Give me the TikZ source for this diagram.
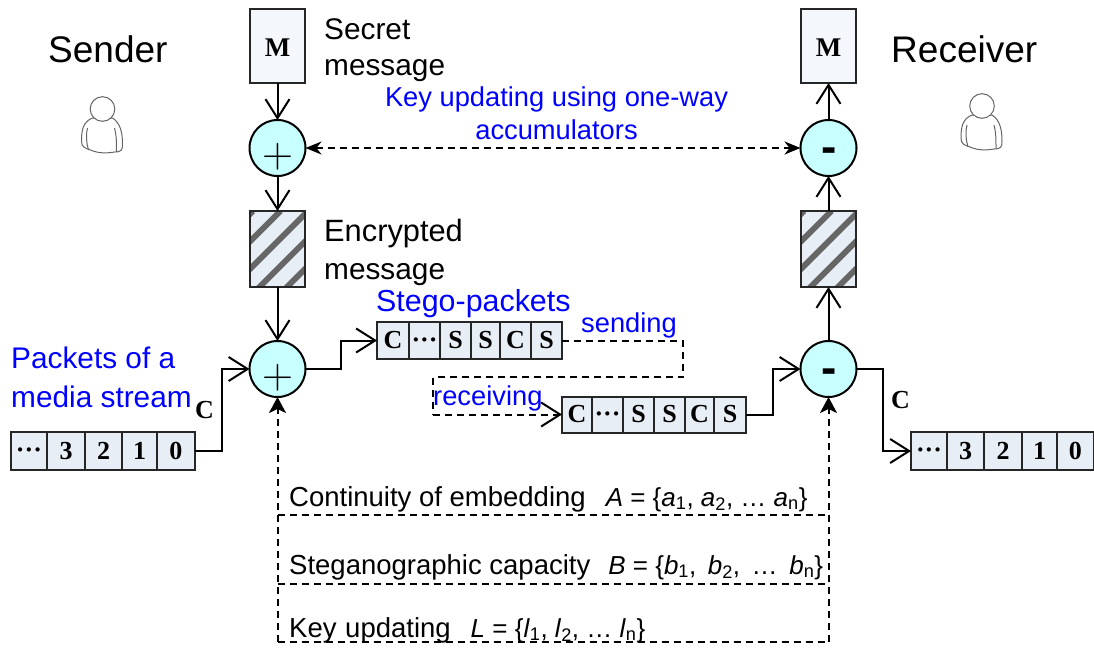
\documentclass[tikz,border=0pt]{standalone}
\usepackage{fontspec}
\usetikzlibrary{arrows.meta}
\newfontfamily\arialf{Liberation Sans}
\newfontfamily\timesf{Liberation Serif}[BoldFont={Liberation Serif Bold}]
\definecolor{cellfill}{HTML}{E8EEF6}
\definecolor{msgfill}{HTML}{F4F7FC}
\definecolor{opfill}{HTML}{C8FFFF}
\definecolor{stripe}{HTML}{666666}
\definecolor{edge}{HTML}{262626}
\definecolor{persongray}{HTML}{666666}
\newcommand{\tridots}{\raisebox{-7.5pt}[0pt][0pt]{···}}
\tikzset{
  x=1pt,y=-1pt,
  conn/.style={line width=2pt,black,-{Straight Barb[length=19pt,width=24pt,line width=2pt]}},
  dashconn/.style={line width=2pt,black,dash pattern=on 7pt off 5pt},
  cell/.style={draw=edge,line width=2pt,fill=cellfill,inner sep=0pt,outer sep=0pt,font=\timesf\bfseries\fontsize{26}{26}\selectfont},
  msgbox/.style={draw=edge,line width=2pt,fill=msgfill,inner sep=0pt,outer sep=0pt,minimum width=55pt,minimum height=74pt,font=\timesf\bfseries\fontsize{27}{27}\selectfont},
  hatchbox/.style={fill=cellfill,inner sep=0pt,outer sep=0pt,minimum width=55pt,minimum height=76pt},
  opcircle/.style={circle,draw=black,line width=2pt,fill=opfill,minimum size=56pt,inner sep=0pt,outer sep=0pt},
  opplus/.style={inner sep=0pt,font=\rmfamily\fontsize{43}{43}\selectfont},
  opminus/.style={inner sep=0pt,font=\arialf\bfseries\fontsize{46}{46}\selectfont},
  bigtxt/.style={anchor=base west,inner sep=0pt,font=\arialf\fontsize{37}{37}\selectfont},
  midtxt/.style={anchor=base west,inner sep=0pt,font=\arialf\fontsize{29.8}{29.8}\selectfont},
  bluetxt/.style={anchor=base west,inner sep=0pt,text=blue,font=\arialf\fontsize{29.8}{29.8}\selectfont},
  keytxt/.style={anchor=base,inner sep=0pt,text=blue,font=\arialf\fontsize{27.3}{27.3}\selectfont},
  smalltxt/.style={anchor=base west,inner sep=0pt,font=\arialf\fontsize{27.5}{27.5}\selectfont},
  ctxt/.style={anchor=base west,inner sep=0pt,font=\timesf\bfseries\fontsize{26}{26}\selectfont},
  personline/.style={draw=persongray,line width=1pt,fill=white},
}
\newcommand{\mathpart}{\fontsize{26}{26}\selectfont}
\newcommand{\personicon}[2]{%
  \begin{scope}[shift={(#1,#2)}]
    \draw[personline] (-10,9) .. controls (-20,13) and (-21,22) .. (-21,32)
      .. controls (-21,38) and (-18,39) .. (-12,41)
      .. controls (-3,45) and (6,44) .. (12,43)
      .. controls (19,43) and (20,41) .. (20,35)
      .. controls (20,24) and (18,14) .. (10,9) -- cycle;
    \draw[personline,fill=none] (-15,19) .. controls (-17,26) and (-16,34) .. (-14,41);
    \draw[personline,fill=none] (12,19) .. controls (14,26) and (14,34) .. (14,43);
    \draw[personline] (0,0) circle (12.3);
  \end{scope}}
\newcommand{\hatched}[3]{% name, centre x, phase
  \node[hatchbox] (#1) at (#2,249) {};
  \begin{scope}
    \clip (#1.south west) rectangle (#1.north east);
    \foreach \k in {-1,0,1,2,3,4,5}
      \draw[stripe,line width=5.7pt] ({#2-27.5+#3+27.5*\k},211) -- ++(-90,90);
  \end{scope}
  \draw[edge,line width=2pt] (#1.south west) rectangle (#1.north east);}
\begin{document}
\begin{tikzpicture}
\useasboundingbox (0,0) rectangle (1094,648);

% static nodes
\node[msgbox] (msgS) at (277.5,46) {\raisebox{-10pt}[0pt][0pt]{M}};
\node[msgbox] (msgR) at (828.5,46) {\raisebox{-10pt}[0pt][0pt]{M}};
\node[opcircle] (encS) at (277.5,148) {};
\node[opcircle] (decR) at (828.5,148) {};
\node[opcircle] (embS) at (277.5,369) {};
\node[opcircle] (extR) at (828.5,369) {};
\hatched{hatS}{277.5}{3}
\hatched{hatR}{828.5}{3}
\node[opplus] (plusA) at (278,157) {+};
\node[opplus] (plusB) at (278,378) {+};
\node[opminus] (minusA) at (829,155) {-};
\node[opminus] (minusB) at (829,376) {-};

% packet rows
\foreach \n/\a/\b/\txt in {i0/11/47/\tridots,i1/47/85/3,i2/85/122/2,i3/122/157/1,i4/157/194.5/0}
  \node[cell,minimum width={(\b-\a)*1pt},minimum height=38pt] (\n) at ({(\a+\b)/2},451) {\txt};
\foreach \n/\a/\b/\txt in {s0/377/409/C,s1/409/440/\tridots,s2/440/471/S,s3/471/500/S,s4/500/531/C,s5/531/562/S}
  \node[cell,minimum width={(\b-\a)*1pt},minimum height=37pt] (\n) at ({(\a+\b)/2},340.5) {\txt};
\foreach \n/\a/\b/\txt in {r0/562/592/C,r1/592/623/\tridots,r2/623/654/S,r3/654/685/S,r4/685/714/C,r5/714/746/S}
  \node[cell,minimum width={(\b-\a)*1pt},minimum height=36pt] (\n) at ({(\a+\b)/2},414.5) {\txt};
\foreach \n/\a/\b/\txt in {o0/911/947/\tridots,o1/947/984/3,o2/984/1022/2,o3/1022/1057/1,o4/1057/1093.5/0}
  \node[cell,minimum width={(\b-\a)*1pt},minimum height=38pt] (\n) at ({(\a+\b)/2},451) {\txt};

% solid connectors
\draw[conn] (msgS.south) -- (encS.north);
\draw[conn] (encS.south) -- (hatS.north);
\draw[conn] (hatS.south) -- (embS.north);
\draw[conn] (decR.north) -- (msgR.south);
\draw[conn] (hatR.north) -- (decR.south);
\draw[conn] (extR.north) -- (hatR.south);
\coordinate (e1) at (222,451);
\draw[conn] (i4.east) -- (e1) |- (embS.west);
\coordinate (e2) at (341,369);
\draw[conn] (embS.east) -- (e2) |- (s0.west);
\coordinate (e3) at (773,414.5);
\draw[conn] (r5.east) -- (e3) |- (extR.west);
\coordinate (e4) at (883,369);
\draw[conn] (extR.east) -- (e4) |- (o0.west);

% transmission
\coordinate (t1) at (683,340.5);
\coordinate (t2) at (683,377);
\coordinate (t3) at (433,377);
\coordinate (t4) at (433,414.5);
\draw[dashconn] (s5.east) -- (t1) -- (t2) -- (t3) -- (t4);
\draw[dashconn,-{Straight Barb[length=19pt,width=24pt,line width=2pt]}] (t4) -- (r0.west);

% key updating
\draw[dashconn,{Stealth[length=16pt,width=13pt,inset=5pt]}-{Stealth[length=16pt,width=13pt,inset=5pt]}] (encS.east) -- (decR.west);

% parameter channels
\coordinate (bl) at (277.5,642);
\coordinate (br) at (828.5,642);
\coordinate (ml) at (277.5,584);
\coordinate (mr) at (828.5,584);
\coordinate (tl) at (277.5,515);
\coordinate (tr) at (828.5,515);
\draw[dashconn,-{Stealth[length=16pt,width=17pt,inset=4pt]}] (bl) -- (embS.south);
\draw[dashconn,-{Stealth[length=16pt,width=17pt,inset=4pt]}] (br) -- (extR.south);
\draw[dashconn] (tl) -- (tr);
\draw[dashconn] (ml) -- (mr);
\draw[dashconn] (bl) -- (br);

% labels
\node[bigtxt] (lSender) at (48,62) {Sender};
\node[bigtxt] (lReceiver) at (891,62) {Receiver};
\node[midtxt] (lSecA) at (324,39) {Secret};
\node[midtxt] (lSecB) at (324,75) {message};
\node[midtxt,font=\arialf\fontsize{30.8}{30.8}\selectfont] (lEncA) at (324,241) {Encrypted};
\node[midtxt] (lEncB) at (324,279) {message};
\node[keytxt] (lKeyA) at (556.5,106) {Key updating using one-way};
\node[keytxt] (lKeyB) at (556.5,139) {accumulators};
\node[bluetxt,font=\arialf\fontsize{30.4}{30.4}\selectfont] (lSteg) at (376,311) {Stego-packets};
\node[keytxt,anchor=base west] (lSend) at (581,332) {sending};
\node[keytxt,anchor=base west] (lRecv) at (433,405) {receiving};
\node[bluetxt] (lPkA) at (11,368) {Packets of a};
\node[bluetxt] (lPkB) at (11,407) {media stream};
\node[ctxt] (lCa) at (195,418) {C};
\node[ctxt] (lCb) at (891,408) {C};
\node[smalltxt] (lCont) at (289,506) {Continuity of embedding\hspace{20pt}{\mathpart\textit{A} = \{\textit{a}\textsubscript{1}, \textit{a}\textsubscript{2}, … \textit{a}\textsubscript{n}\}}};
\node[smalltxt] (lCap) at (289,574) {Steganographic capacity\hspace{18pt}{\mathpart\textit{B} = \{\textit{b}\textsubscript{1},\, \textit{b}\textsubscript{2},\, …\, \textit{b}\textsubscript{n}\}}};
\node[smalltxt] (lKeyU) at (289,637) {Key\hspace{1pt} updating\hspace{20pt}{\mathpart\textit{L} = \{\textit{l}\textsubscript{1}, \textit{l}\textsubscript{2}, … \textit{l}\textsubscript{n}\}}};

% persons
\personicon{102.5}{109}
\personicon{982}{106}
\end{tikzpicture}
\end{document}
